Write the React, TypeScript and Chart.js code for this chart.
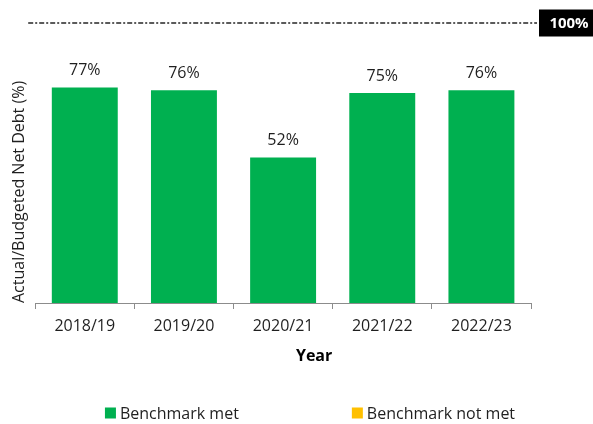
import React, { useEffect, useRef } from "react";
import { Chart, registerables } from "chart.js";

Chart.register(...registerables);

// ---- data ----
const years = ["2018/19", "2019/20", "2020/21", "2021/22", "2022/23"];
const ratioPct = [77, 76, 52, 75, 76];
const benchmarkMet = [true, true, true, true, true];
const benchmarkValue = 100;
const benchmarkLabel = "100%";
const legendLabels = ["Benchmark met", "Benchmark not met"];
const legendColors = ["#00B050", "#FFC000"];
const xTitle = "Year";
const yTitle = "Actual/Budgeted Net Debt (%)";

const FONT = "'Open Sans', 'Noto Sans', sans-serif";
const TEXT = "#1f1f1f";

const overlayPlugin = {
  id: "overlay",
  afterDatasetsDraw(chart: any) {
    const ctx: CanvasRenderingContext2D = chart.ctx;
    const { left, right, bottom } = chart.chartArea;
    const yb = chart.scales.y.getPixelForValue(benchmarkValue);
    ctx.save();

    // benchmark line (dash-dot)
    ctx.strokeStyle = "#262626";
    ctx.lineWidth = 1.5;
    ctx.setLineDash([5, 2, 2, 2]);
    ctx.beginPath();
    ctx.moveTo(left - 7, yb);
    ctx.lineTo(right + 6, yb);
    ctx.stroke();
    ctx.setLineDash([]);

    // benchmark label box
    const bx = right + 8;
    ctx.fillStyle = "#000";
    ctx.fillRect(bx, yb - 13.5, chart.width - bx, 27);
    ctx.fillStyle = "#fff";
    ctx.font = `bold 15px ${FONT}`;
    ctx.textAlign = "center";
    ctx.textBaseline = "middle";
    ctx.fillText(benchmarkLabel, (bx + chart.width) / 2 + 3, yb + 1);

    // value labels
    const meta = chart.getDatasetMeta(0);
    ctx.fillStyle = TEXT;
    ctx.font = `16px ${FONT}`;
    meta.data.forEach((bar: any, i: number) => {
      ctx.fillText(`${ratioPct[i]}%`, bar.x, bar.y - 17);
    });

    // x-axis title
    ctx.font = `bold 16px ${FONT}`;
    ctx.fillStyle = "#000";
    ctx.fillText(xTitle, (left + right) / 2 + 31, bottom + 53);

    // legend
    ctx.font = `16px ${FONT}`;
    ctx.textAlign = "left";
    const box = 11;
    const boxGap = 4;
    const itemGap = 113;
    const widths = legendLabels.map((t) => box + boxGap + ctx.measureText(t).width);
    const total = widths.reduce((a, b) => a + b, 0) + itemGap * (widths.length - 1);
    let x = (chart.width - total) / 2 + 13.5;
    const ly = chart.height - 11;
    legendLabels.forEach((t, i) => {
      ctx.fillStyle = legendColors[i];
      ctx.fillRect(x, ly - box / 2, box, box);
      ctx.fillStyle = TEXT;
      ctx.fillText(t, x + box + boxGap, ly + 1);
      x += widths[i] + itemGap;
    });

    ctx.restore();
  },
};

export default function App() {
  const ref = useRef<HTMLCanvasElement | null>(null);

  useEffect(() => {
    document.body.style.margin = "0";
    const canvas = ref.current;
    if (!canvas) return;
    const chart = new Chart(canvas, {
      type: "bar",
      data: {
        labels: years,
        datasets: [
          {
            label: legendLabels[0],
            data: ratioPct,
            backgroundColor: benchmarkMet.map((m) => (m ? legendColors[0] : legendColors[1])),
            borderWidth: 0,
            categoryPercentage: 1,
            barPercentage: 0.665,
          },
        ],
      },
      options: {
        responsive: false,
        animation: false,
        devicePixelRatio: 1,
        layout: { padding: { left: 4, right: 62, top: 23, bottom: 79.8 } },
        plugins: {
          legend: { display: false },
          tooltip: { enabled: false },
          title: { display: false },
        },
        scales: {
          x: {
            offset: true,
            grid: {
              display: true,
              drawOnChartArea: false,
              drawTicks: true,
              tickLength: 6,
              color: "#8c8c8c",
              offset: true,
            },
            border: { display: true, color: "#8c8c8c", width: 1 },
            ticks: {
              font: { size: 16, family: FONT },
              color: TEXT,
              padding: 8,
              maxRotation: 0,
              autoSkip: false,
            },
          },
          y: {
            min: 0,
            max: 100,
            ticks: { display: false },
            grid: { display: false, drawTicks: false },
            border: { display: false },
            title: {
              display: true,
              text: yTitle,
              align: "start",
              color: TEXT,
              font: { size: 16, family: FONT },
              padding: { top: 6, bottom: 6 },
            },
          },
        },
      },
      plugins: [overlayPlugin],
    });
    return () => chart.destroy();
  }, []);

  return (
    <div style={{ width: 593, height: 424 }}>
      <canvas ref={ref} width={593} height={424} style={{ display: "block" }} />
    </div>
  );
}
